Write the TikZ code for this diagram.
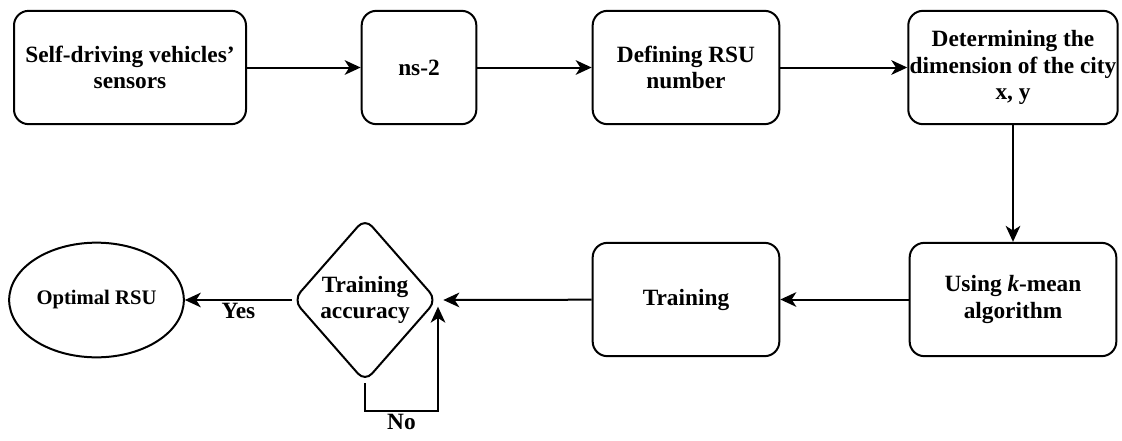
\documentclass[tikz,border=0pt]{standalone}
\usepackage{fontspec}
\setmainfont{Liberation Serif}
\usetikzlibrary{shapes.geometric,arrows.meta}
\newcommand{\flowfont}{\fontsize{17.5}{20}\selectfont\bfseries}
\tikzset{
  stepbox/.style={draw,line width=1.5pt,rounded corners=11pt,align=center,font=\flowfont,
    minimum height=85pt,inner sep=1pt},
  decbox/.style={draw,line width=1.5pt,diamond,rounded corners=8pt,align=center,font=\flowfont,
    minimum width=108pt,minimum height=123pt,inner sep=0pt},
  endbox/.style={draw,line width=1.5pt,ellipse,align=center,
    font=\fontsize{15.5}{18}\selectfont\bfseries,
    minimum width=131pt,minimum height=86pt,inner sep=0pt},
  arr/.style={line width=1.5pt,-{Stealth[length=12pt,width=11pt,inset=3.5pt]}},
  lbl/.style={font=\flowfont,inner sep=2pt}
}
\begin{document}
\begin{tikzpicture}[x=0.75pt,y=-0.75pt]
\useasboundingbox (0,0) rectangle (1122,440);
% top row
\node[stepbox,minimum width=174pt] (sens) at (130,67.5) {Self-driving vehicles'\\sensors};
\node[stepbox,minimum width=86pt] (ns) at (419,67.5) {ns-2};
\node[stepbox,minimum width=140pt] (rsu) at (686,67.5) {Defining RSU\\number};
\node[stepbox,minimum width=155pt] (city) at (1013,67.5) {Determining the\\dimension of the city\\x, y};
% bottom row
\node[stepbox,minimum width=155pt] (kmean) at (1013,299.5) {Using \textit{k}-mean\\algorithm};
\node[stepbox,minimum width=140pt] (train) at (686,299.5) {Training};
\node[decbox] (acc) at (365,300) {Training\\accuracy};
\node[endbox] (opt) at (96.5,300) {Optimal RSU};
% connectors
\draw[arr] (sens) -- (ns);
\draw[arr] (ns) -- (rsu);
\draw[arr] (rsu) -- (city);
\draw[arr] (city) -- (kmean);
\draw[arr] (kmean) -- (train);
\draw[arr] (train) -- ([xshift=4pt]acc.east);
\draw[arr] (acc) -- (opt) node[lbl,below,pos=0.5] {Yes};
\draw[arr] (acc.south) -- ++(0,28) -| node[lbl,below,pos=0.25] {No} ([yshift=-5pt]acc.east);
\end{tikzpicture}
\end{document}
